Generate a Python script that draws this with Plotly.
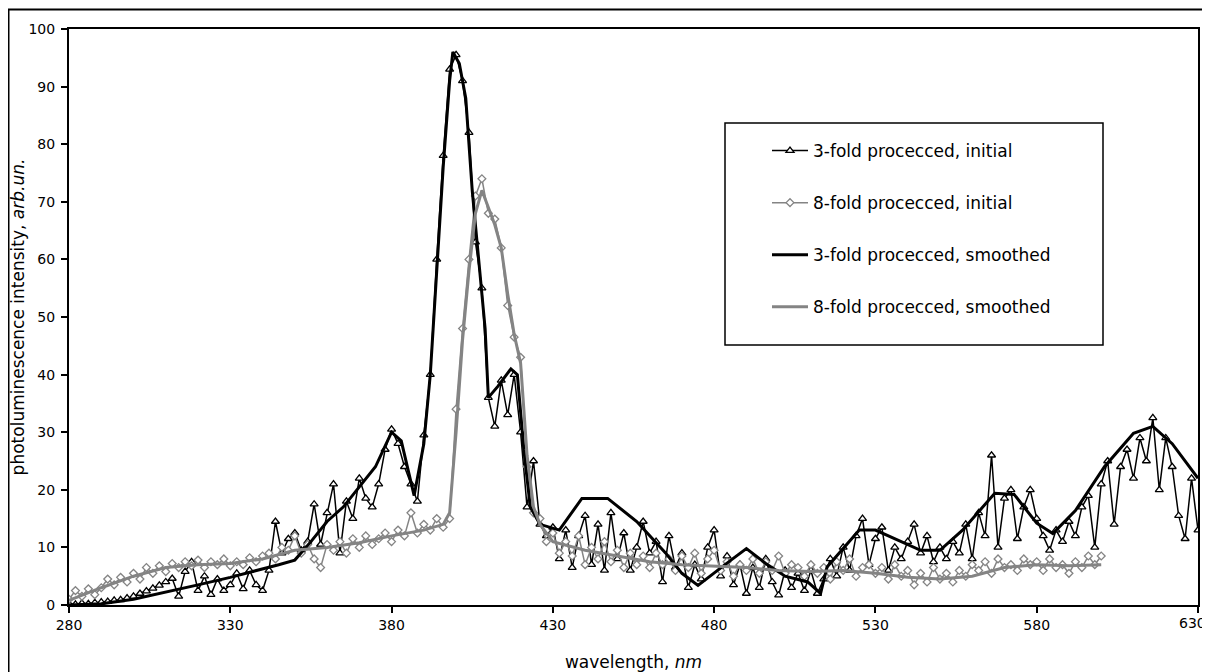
import plotly.graph_objects as go

# wavelength grids (nm)
wl_3fold = list(range(280, 631, 2))
wl_8fold = list(range(280, 601, 2))

# 3-fold processed, initial
pl_3fold_initial = [
    0.2, 0.1, 0.3, 0.2, 0.4, 0.5, 0.6, 0.8, 0.9, 1.2,
    1.5, 2.0, 2.4, 2.9, 3.4, 4.0, 4.6, 1.5, 5.8, 7.5,
    2.5, 5.0, 1.8, 4.5, 2.5, 3.5, 5.5, 2.8, 6.0, 3.5,
    2.5, 6.0, 14.5, 9.0, 11.5, 12.5, 9.5, 11.0, 17.5, 10.5,
    16.0, 21.0, 9.0, 18.0, 15.0, 22.0, 18.5, 17.0, 21.0, 27.0,
    30.5, 28.0, 24.0, 21.0, 18.0, 29.5, 40.0, 60.0, 78.0, 93.0,
    95.5, 91.0, 82.0, 63.0, 55.0, 36.0, 31.0, 39.0, 33.0, 40.0,
    30.0, 17.0, 25.0, 14.0, 12.0, 13.5, 8.0, 13.0, 6.5, 12.0,
    15.5, 7.0, 14.0, 6.0, 16.0, 8.0, 12.5, 6.0, 10.0, 14.5,
    9.0, 11.0, 4.0, 12.0, 6.5, 9.0, 3.0, 7.0, 4.5, 10.0,
    13.0, 5.0, 8.5, 3.5, 7.0, 2.0, 6.5, 3.0, 8.0, 4.0,
    1.7, 6.0, 3.0, 5.5, 2.5, 6.0, 2.0, 4.5, 8.0, 5.0,
    10.0, 6.0, 12.0, 15.0, 7.0, 11.5, 13.5, 6.0, 10.0, 8.0,
    11.0, 14.0, 9.0, 12.0, 7.5, 10.0, 8.0, 11.0, 9.0, 14.0,
    8.0, 16.0, 12.0, 26.0, 10.0, 18.5, 20.0, 11.5, 17.0, 20.0,
    15.0, 12.0, 9.5, 13.0, 11.0, 14.5, 12.0, 17.0, 19.0, 10.0,
    21.0, 25.0, 14.0, 24.0, 27.0, 22.0, 29.0, 25.0, 32.5, 20.0,
    29.0, 24.0, 15.5, 11.5, 22.0, 13.0,
]

# 8-fold processed, initial
pl_8fold_initial = [
    1.0, 2.5, 1.5, 2.8, 1.8, 3.0, 4.5, 3.5, 4.8, 4.0,
    5.5, 4.5, 6.5, 5.5, 6.8, 5.8, 7.2, 6.5, 7.5, 6.8,
    7.8, 6.5, 7.5, 7.0, 8.0, 6.8, 7.5, 7.0, 8.2, 7.5,
    8.5, 9.0, 8.0, 10.0, 9.5, 12.0, 9.0, 10.5, 8.0, 6.5,
    10.5, 9.5, 11.0, 9.0, 11.5, 10.0, 12.0, 10.5, 11.5, 12.5,
    11.0, 13.0, 12.0, 16.0, 12.5, 14.0, 13.0, 15.0, 13.5, 15.0,
    34.0, 48.0, 60.0, 71.0, 74.0, 68.0, 67.0, 62.0, 52.0, 46.5,
    43.0, 24.0, 16.0, 15.0, 11.0, 12.5, 9.0, 11.0, 8.5, 12.0,
    7.0, 10.0, 8.0, 11.0, 7.5, 9.5, 6.5, 9.0, 7.0, 8.5,
    6.5, 9.0, 7.0, 8.0, 6.0, 8.5, 6.5, 9.0, 5.5, 8.0,
    9.5, 6.0, 7.5, 5.0, 7.0, 6.0, 8.0, 5.5, 7.5, 6.0,
    8.5, 5.5, 7.0, 6.5, 5.0, 7.0, 5.5, 6.5, 4.5, 7.5,
    6.0, 8.0, 5.0, 6.5, 7.0, 5.5, 6.5, 4.5, 7.0, 5.0,
    6.0, 3.5, 5.5, 4.0, 6.5, 4.5, 5.5, 4.0, 6.0, 5.0,
    7.0, 6.0, 7.5, 5.5, 8.0, 6.5, 7.0, 6.0, 8.0, 7.0,
    7.5, 6.0, 8.0, 6.5, 7.0, 5.5, 7.5, 6.5, 8.5, 7.0,
    8.5,
]

# 3-fold processed, smoothed
wl_3fold_smooth = [280, 290, 300, 310, 320, 330, 340, 345, 350, 355,
                   360, 365, 370, 375, 380, 383, 387, 390, 392, 394,
                   396, 398, 399, 401, 403, 405, 407, 409, 410, 413,
                   417, 419, 421, 423, 426, 432, 439, 447, 456, 465,
                   470, 475, 485, 490, 496, 502, 509, 513, 515, 525,
                   530, 537, 544, 550, 557, 567, 573, 580, 585, 592,
                   601, 610, 616, 622, 628, 630]
pl_3fold_smooth = [0.0, 0.2, 1.0, 2.2, 3.5, 4.8, 6.2, 7.0, 7.8, 11.0,
                   14.5, 17.0, 20.5, 24.0, 30.0, 28.5, 19.0, 28.0, 40.0, 58.0,
                   76.0, 91.0, 96.0, 94.0, 88.0, 72.0, 60.0, 48.0, 36.0, 38.0,
                   41.0, 40.0, 27.0, 17.0, 14.0, 13.0, 18.5, 18.5, 14.5, 9.0,
                   5.5, 3.4, 7.7, 9.8, 7.2, 5.0, 4.0, 2.0, 6.6, 13.0,
                   13.0, 11.2, 9.5, 9.5, 13.0, 19.4, 19.2, 14.2, 12.4, 16.4,
                   24.0, 29.8, 31.0, 28.0, 23.4, 22.0]

# 8-fold processed, smoothed
wl_8fold_smooth = [280, 290, 300, 310, 320, 330, 340, 350, 360, 370,
                   380, 390, 396, 398, 400, 402, 404, 406, 408, 410,
                   412, 414, 416, 418, 420, 422, 424, 426, 430, 440,
                   450, 460, 470, 480, 490, 500, 510, 520, 530, 540,
                   550, 560, 570, 580, 590, 600]
pl_8fold_smooth = [0.8, 3.0, 5.0, 6.5, 7.0, 7.2, 8.0, 9.5, 10.0, 10.8,
                   12.0, 13.0, 14.0, 16.0, 30.0, 46.0, 58.0, 68.0, 72.0, 69.0,
                   66.0, 62.0, 54.0, 47.0, 42.0, 26.0, 17.0, 14.0, 11.0, 9.5,
                   8.5, 7.5, 7.0, 6.8, 6.5, 6.0, 5.8, 6.0, 5.5, 4.8,
                   4.5, 5.0, 6.5, 7.0, 6.8, 7.0]

x_ticks = [280, 330, 380, 430, 480, 530, 580, 630]
x_tick_labels = ["280", "330", "380", "430", "480", "530", "580", "630"]
y_ticks = list(range(0, 101, 10))

names = ["3-fold procecced, initial", "8-fold procecced, initial",
         "3-fold procecced, smoothed", "8-fold procecced, smoothed"]

BLACK = "#000000"
GRAY = "#848484"

fig = go.Figure()
fig.add_trace(go.Scatter(
    x=wl_3fold, y=pl_3fold_initial, name=names[0], legendgroup="a",
    mode="lines+markers", line=dict(color=BLACK, width=1.5),
    marker=dict(symbol="triangle-up", size=7, color="white",
                line=dict(color=BLACK, width=1.3))))
fig.add_trace(go.Scatter(
    x=wl_8fold, y=pl_8fold_initial, name=names[1], legendgroup="b",
    mode="lines+markers", line=dict(color=GRAY, width=1.5),
    marker=dict(symbol="diamond", size=6, color="white",
                line=dict(color=GRAY, width=1.3))))
fig.add_trace(go.Scatter(
    x=wl_3fold_smooth, y=pl_3fold_smooth, name=names[2], legendgroup="c",
    mode="lines", line=dict(color=BLACK, width=3)))
fig.add_trace(go.Scatter(
    x=wl_8fold_smooth, y=pl_8fold_smooth, name=names[3], legendgroup="d",
    mode="lines", line=dict(color=GRAY, width=3)))

# page body has an 8px offset; figure sized to fill the rest of the window
OFF = 8
W, H = 1210 - OFF, 672 - OFF
L, T = 69 - OFF, 29 - OFF
R = W - (1198 - OFF)
B = H - (605 - OFF)
pw, ph = W - L - R, H - T - B


def px2x(sx):
    return (sx - OFF - L) / pw


def py2y(sy):
    return (H - B - (sy - OFF)) / ph


axis_common = dict(showline=True, linewidth=2, linecolor=BLACK, mirror=True,
                   ticks="outside", ticklen=6, tickwidth=2, tickcolor=BLACK,
                   showgrid=False, zeroline=False,
                   tickfont=dict(family="DejaVu Sans", size=14, color=BLACK))

# the last x label sits at the right edge: draw it as an annotation kept inside
last_label = x_tick_labels[-1]
shown_x_labels = x_tick_labels[:-1] + [""]

fig.update_layout(
    width=W, height=H,
    margin=dict(l=L, r=R, t=T, b=B, autoexpand=False),
    paper_bgcolor="white", plot_bgcolor="white",
    font=dict(family="DejaVu Sans", color=BLACK, size=14),
    xaxis=dict(range=[280, 630], tickmode="array", tickvals=x_ticks,
               ticktext=shown_x_labels,
               title=dict(text="wavelength, <i>nm</i>",
                          font=dict(size=17), standoff=25),
               **axis_common),
    yaxis=dict(range=[0, 100], tickmode="array", tickvals=y_ticks,
               ticklabelstandoff=3,
               title=dict(text="photoluminescence intensity, <i>arb.un.</i>",
                          font=dict(size=17), standoff=0),
               **axis_common),
    legend=dict(x=px2x(767), y=py2y(133), xanchor="left", yanchor="top",
                bgcolor="rgba(0,0,0,0)", borderwidth=0, itemwidth=36,
                font=dict(family="DejaVu Sans", size=17, color=BLACK),
                tracegroupgap=27, traceorder="grouped"),
    showlegend=True,
    annotations=[
        dict(text=last_label, x=x_ticks[-1], xref="x", y=0, yref="paper",
             xanchor="right", yanchor="top", xshift=10, yshift=-8,
             showarrow=False,
             font=dict(family="DejaVu Sans", size=14, color=BLACK)),
    ],
    shapes=[
        dict(type="rect", xref="paper", yref="paper",
             x0=px2x(725), x1=px2x(1103), y0=py2y(345), y1=py2y(123),
             line=dict(color=BLACK, width=1.5), fillcolor="rgba(0,0,0,0)",
             layer="below"),
        dict(type="rect", xref="paper", yref="paper",
             x0=px2x(8.5), x1=px2x(1230), y0=py2y(700), y1=py2y(9.5),
             line=dict(color=BLACK, width=2), fillcolor="rgba(0,0,0,0)"),
    ],
)

fig.write_html("out.html", config={"displayModeBar": False})
